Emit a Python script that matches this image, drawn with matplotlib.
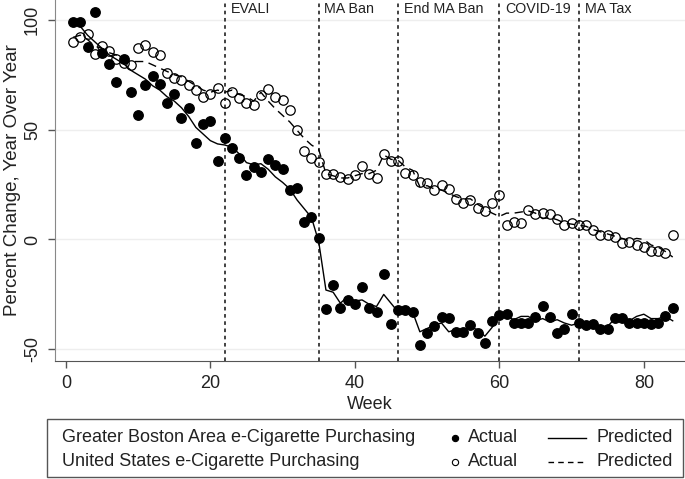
import matplotlib
matplotlib.use("Agg")
import matplotlib.pyplot as plt
from matplotlib.lines import Line2D
from matplotlib.patches import Rectangle
import numpy as np

plt.rcParams['font.family'] = ['Liberation Sans', 'DejaVu Sans']

weeks = np.arange(1, 85)

boston_actual = [
    99, 99, 87.7, 103.6, 84.7, 79.8, 71.5, 82, 67, 56.7,
    70.3, 74.4, 70.6, 62.3, 66, 55.2, 60, 43.7, 52.6, 53.8,
    35.6, 46, 41.7, 37, 29.2, 33, 30.8, 36.8, 34.1, 32,
    22.4, 23.5, 8, 10.3, 0.9, -31.8, -20.8, -31, -27.6, -29.4,
    -21.5, -31.4, -32.9, -15.8, -38.5, -32.1, -32.1, -32.9, -48, -42.7,
    -39.2, -35.5, -35.9, -42, -42, -38.9, -42.7, -47.2, -37, -34.4,
    -33.9, -38.2, -38.2, -38.2, -35.2, -30.2, -35.2, -42.4, -40.9, -34.1,
    -38.2, -38.9, -38.5, -40.8, -40.8, -35.9, -35.9, -38.2, -38.2, -38.2,
    -38.5, -38.2, -34.7, -31.4,
]
boston_pred = [
    99, 97, 93, 90, 87, 84, 82, 80, 77, 75,
    73, 70, 68, 65, 63, 60, 56, 51, 48, 45,
    43.5, 43, 42, 39, 35, 34, 34.5, 32, 28.5, 26,
    23, 18, 14, 10, -1, -23, -24, -29, -26, -28,
    -27.5, -29.5, -30.5, -25, -29, -33, -32, -33, -42, -40.5,
    -39, -38, -42, -41, -41, -40, -41, -44, -40, -35,
    -35, -36.5, -35, -35, -37, -36, -37.5, -36.5, -38, -39,
    -38, -39.5, -39, -39.5, -39.5, -36, -36, -37, -35, -34,
    -36, -36, -35, -37,
]
us_actual = [
    90, 92.3, 93.5, 84.6, 88.2, 86, 82, 80.1, 79.5, 87.2,
    88.5, 85.4, 83.9, 75.9, 73.6, 72.4, 70.3, 68.1, 64.8, 66.4,
    68.9, 62.1, 67.1, 64.5, 62.3, 61, 65.9, 68.3, 64.8, 63.3,
    59.1, 49.7, 40.3, 37.1, 35.3, 30, 29.6, 28.5, 27.7, 29.2,
    33.3, 30, 28.2, 38.8, 35.8, 35.8, 30.3, 29.2, 26.2, 25.5,
    22.4, 24.7, 23.2, 18.6, 16.7, 18.2, 14.2, 13.1, 16.4, 20.2,
    6.5, 8, 7.3, 13.3, 11.8, 12.1, 11.5, 9.5, 6.8, 7.3,
    6.5, 6.5, 4.5, 2, 2, 1.2, -1.5, -1.1, -2.6, -3.6,
    -5.2, -5.2, -6.1, 2,
]
us_pred = [
    92, 93, 91, 88, 87, 85, 84, 82, 81, 81,
    81, 79.5, 78, 76.5, 75, 74, 72, 70, 68, 67,
    68, 67, 68, 66, 65, 63, 67, 63, 59.5, 56.5,
    53.5, 49.7, 46, 43, 41, 30, 29, 28, 28, 29,
    30, 30, 31.5, 38.5, 36.5, 36, 33, 31.5, 24, 24.5,
    23, 22.5, 21, 19.5, 18.5, 18.5, 16, 14, 12, 10.5,
    12, 12, 12.5, 13, 12, 9.5, 10, 9, 7.5, 7,
    6.5, 6, 4.5, 3.5, 2.5, 1.5, 0.5, -0.5, 0.5, 0,
    -2.5, -3.5, -5.5, -8,
]

event_weeks = [22, 35, 46, 60, 71]
event_labels = ["EVALI", "MA Ban", "End MA Ban", "COVID-19", "MA Tax"]

W, H = 685, 479
fig = plt.figure(figsize=(W / 100, H / 100), dpi=100)
ax = fig.add_axes([55 / W, 1 - 361 / H, 630 / W, 361 / H])

ax.set_xlim(-1.5, 85.7)
ax.set_ylim(-55.3, 109)

for v in [100, 50, 0, -50]:
    ax.axhline(v, color='#eeeeee', lw=1, zorder=0)

for wk, lab in zip(event_weeks, event_labels):
    ax.axvline(wk, color='#333333', lw=1.3, ls=(0, (2, 2)), zorder=1)
    ax.text(wk + 0.8, 0.975, lab, transform=ax.get_xaxis_transform(),
            fontsize=10.3, color='#222222', va='center', ha='left')

ax.plot(weeks, boston_pred, color='black', lw=1, zorder=2)
ax.plot(weeks, us_pred, color='black', lw=1, ls=(0, (6, 4)), zorder=2)
ax.plot(weeks, boston_actual, 'o', color='black', ms=6.8, zorder=3)
ax.plot(weeks, us_actual, 'o', mfc='none', mec='black', mew=0.9, ms=6.8, zorder=3)

ax.set_xticks([0, 20, 40, 60, 80])
ax.set_yticks([-50, 0, 50, 100])
ax.set_yticklabels(['-50', '0', '50', '100'], rotation=90, va='center')
ax.tick_params(axis='both', labelsize=13, colors='#555555', labelcolor='#222222',
               length=5, width=1, pad=5)
for s in ['top', 'right']:
    ax.spines[s].set_visible(False)
ax.spines['left'].set_color('#888888')
ax.spines['bottom'].set_color('#555555')

ax.set_xlabel('Week', fontsize=13, color='#222222', labelpad=3)
ax.set_ylabel('Percent Change, Year Over Year', fontsize=13.5, color='#222222', va='center')
ax.yaxis.set_label_coords(-0.068, 0.5)

# legend box drawn in figure pixels
def fx(px):
    return px / W

def fy(py):
    return 1 - py / H

fig.add_artist(Rectangle((fx(47), fy(477)), fx(683) - fx(47), fy(419) - fy(477),
                         transform=fig.transFigure, fill=False, ec='#555555', lw=1))
rows = [(438, "Greater Boston Area e-Cigarette Purchasing", 'black', '-'),
        (462, "United States e-Cigarette Purchasing", 'none', (0, (4, 3)))]
for py, desc, fc, ls in rows:
    fig.text(fx(62), fy(py), desc, fontsize=13, color='#222222', va='center')
    fig.add_artist(Line2D([fx(455)], [fy(py)], marker='o', ms=4.5, mfc=fc, mec='black',
                          mew=0.8, transform=fig.transFigure))
    fig.text(fx(468), fy(py), "Actual", fontsize=13, color='#222222', va='center')
    fig.add_artist(Line2D([fx(548), fx(586)], [fy(py), fy(py)], color='black', lw=1,
                          ls=ls, transform=fig.transFigure))
    fig.text(fx(596), fy(py), "Predicted", fontsize=13, color='#222222', va='center')

fig.savefig('out.png', dpi=100)
